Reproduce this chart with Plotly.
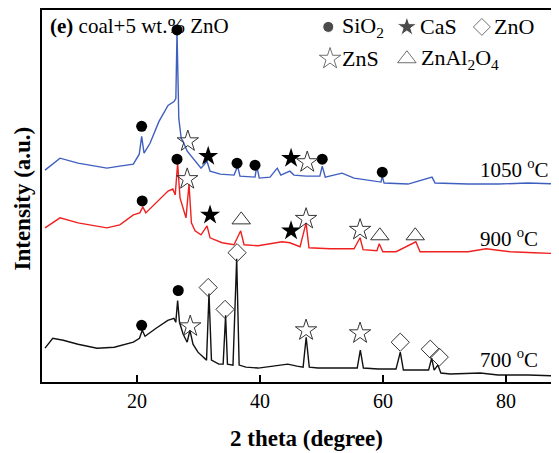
import plotly.graph_objects as go

# ---------------- data (2theta in degrees, intensity in a.u. incl. offsets) ----------------
tt_700 = [5.04, 6.3, 8.0, 10.4, 13.5, 16.3, 19.4, 20.4, 20.85, 21.3, 23.1, 25.0, 26.0, 26.3, 26.6,
          26.9, 27.5, 28.15, 28.6, 29.1, 29.9, 30.7, 31.3, 31.7, 32.1, 33.3, 34.0, 34.4, 34.7, 35.6,
          36.2, 36.6, 37.7, 39.7, 42.6, 44.5, 46.0, 47.0, 47.5, 48.0, 49.4, 52.4, 55.8, 56.3, 56.8,
          59.2, 62.1, 62.8, 63.3, 66.0, 67.4, 67.9, 68.3, 68.9, 69.4, 70.9, 75.8, 78.7, 83.6, 88.6]
int_700 = [34, 44, 42, 38, 34, 35, 40, 44, 52, 46, 54, 62, 64, 60, 82,
           60, 48, 40, 52, 38, 30, 25, 22, 89, 22, 18, 18, 67, 18, 17,
           124, 17, 15, 14, 16, 18, 16, 15, 45, 15, 14, 14, 14, 32, 14,
           13, 13, 30, 12, 12, 12, 24, 12, 17, 9, 8, 9, 7, 7, 6]

tt_900 = [5.04, 7.48, 10.4, 15.1, 17.2, 19.4, 20.45, 20.94, 21.43, 23.1, 25.04, 25.82, 26.21, 26.6,
          26.99, 27.48, 27.96, 28.45, 28.84, 29.43, 30.4, 31.38, 31.87, 33.82, 35.77, 36.85, 37.4,
          39.67, 41.62, 43.57, 44.84, 46.5, 47.48, 47.95, 51.38, 55.28, 56.26, 56.75, 59.0, 59.38,
          59.96, 62.11, 65.33, 66.01, 68.94, 73.82, 76.74, 80.65, 84.55, 88.6]
int_900 = [155, 165, 160, 155, 158, 168, 170, 176, 170, 180, 192, 194, 188, 220,
           185, 175, 165, 199, 160, 152, 148, 157, 145, 140, 138, 152, 138,
           137, 139, 141, 140, 136, 160, 135, 134, 134, 145, 133, 132, 139,
           131, 131, 141, 131, 131, 131, 134, 131, 130, 129]

tt_1050 = [5.04, 7.48, 10.4, 15.1, 17.2, 19.4, 20.36, 20.75, 21.14, 22.11, 23.57, 25.04, 26.01,
           26.31, 26.5, 26.79, 27.18, 27.48, 28.16, 29.43, 30.4, 31.38, 31.87, 33.53, 35.77, 36.35,
           36.74, 39.18, 39.48, 39.87, 41.62, 42.79, 43.38, 44.84, 45.52, 47.48, 49.72, 50.11, 50.6,
           53.33, 55.28, 59.67, 59.87, 60.16, 64.06, 67.96, 68.45, 73.82, 78.7, 83.57, 88.6]
int_1050 = [213, 225, 220, 215, 217, 219, 229, 247, 230, 240, 262, 278, 282,
            285, 352, 265, 245, 242, 232, 222, 215, 222, 212, 209, 208, 217,
            207, 206, 217, 205, 206, 215, 208, 212, 208, 207, 207, 217, 206,
            210, 205, 201, 207, 200, 199, 206, 200, 199, 199, 200, 199]

# phase identification markers
sio2_x = [20.75, 26.5, 36.26, 39.18, 50.11, 59.87, 20.84, 26.5, 20.75, 26.7]
sio2_y = [257, 354, 220, 218, 224, 211, 182, 224, 57, 92]
cas_x = [31.57, 45.04, 31.87, 45.04]
cas_y = [227, 225, 168, 152]
zns_x = [28.26, 47.67, 28.16, 47.48, 56.26, 28.65, 47.48, 56.26]
zns_y = [242, 221, 204, 164, 153, 56, 52, 49]
zno_x = [31.57, 34.31, 36.26, 62.79, 67.67, 69.13]
zno_y = [95, 73, 130, 40, 33, 25]
znal_x = [36.94, 59.47, 65.23]
znal_y = [163, 147, 147]

x_ticks = [20, 40, 60, 80]

FONT = "Liberation Serif, Times New Roman, serif"

fig = go.Figure()
fig.add_trace(go.Scatter(x=tt_700, y=int_700, mode="lines", line=dict(color="#111111", width=1.4)))
fig.add_trace(go.Scatter(x=tt_900, y=int_900, mode="lines", line=dict(color="#f02020", width=1.4)))
fig.add_trace(go.Scatter(x=tt_1050, y=int_1050, mode="lines", line=dict(color="#3f5fbf", width=1.4)))

fig.add_trace(go.Scatter(x=sio2_x, y=sio2_y, mode="markers",
                         marker=dict(symbol="circle", size=11, color="black")))
fig.add_trace(go.Scatter(x=cas_x, y=cas_y, mode="markers",
                         marker=dict(symbol="star", size=15, color="black")))
fig.add_trace(go.Scatter(x=zns_x, y=zns_y, mode="markers",
                         marker=dict(symbol="star-open", size=16, color="#333333", line=dict(width=1))))
fig.add_trace(go.Scatter(x=zno_x, y=zno_y, mode="markers",
                         marker=dict(symbol="diamond-open", size=14, color="#333333", line=dict(width=1))))
fig.add_trace(go.Scatter(x=znal_x, y=znal_y, mode="markers",
                         marker=dict(symbol="triangle-up-open", size=16, color="#333333", line=dict(width=1))))

# legend symbols
leg_sym_x = [51.09, 63.87, 76.06, 51.38, 63.87]
leg_sym_y = [357, 357, 357, 325, 325]
leg_symbols = ["circle", "star", "diamond-open", "star-open", "triangle-up-open"]
leg_sizes = [11, 15, 13, 16, 16]
leg_text_x = [52.94, 65.62, 77.75, 52.94, 65.82]
leg_labels = ["SiO<sub>2</sub>", "CaS", "ZnO", "ZnS", "ZnAl<sub>2</sub>O<sub>4</sub>"]
fig.add_trace(go.Scatter(x=leg_sym_x, y=leg_sym_y, mode="markers",
                         marker=dict(symbol=leg_symbols, size=leg_sizes,
                                     color=["black", "black", "#333333", "#333333", "#333333"],
                                     line=dict(width=1))))
for tx, ty, lab in zip(leg_text_x, leg_sym_y, leg_labels):
    fig.add_annotation(x=tx, y=ty, text=lab, showarrow=False, xanchor="left", yanchor="middle",
                       font=dict(family=FONT, size=22, color="black"))

# temperature labels
temp_labels = ["1050 <sup>o</sup>C", "900 <sup>o</sup>C", "700 <sup>o</sup>C"]
temp_y = [215, 145, 24]
for lab, ty in zip(temp_labels, temp_y):
    fig.add_annotation(x=75.48, y=ty, text=lab, showarrow=False, xanchor="left", yanchor="middle",
                       font=dict(family=FONT, size=21, color="black"))

# panel title
fig.add_annotation(x=0.012, y=0.995, xref="paper", yref="paper", text="<b>(e)</b> coal+5 wt.% ZnO",
                   showarrow=False, xanchor="left", yanchor="top",
                   font=dict(family=FONT, size=21, color="black"))

# axis titles
fig.add_annotation(x=-0.0377, y=0.492, xref="paper", yref="paper", text="<b>Intensity (a.u.)</b>",
                   showarrow=False, textangle=-90, xanchor="center", yanchor="middle",
                   font=dict(family=FONT, size=23, color="black"))
fig.add_annotation(x=0.511, y=-0.152, xref="paper", yref="paper", text="<b>2 theta (degree)</b>",
                   showarrow=False, xanchor="center", yanchor="middle",
                   font=dict(family=FONT, size=23, color="black"))

# page body has an 8 px margin, so the figure is sized and offset to compensate
fig.update_layout(
    width=551, height=445,
    margin=dict(l=34, r=0, t=0, b=71),
    paper_bgcolor="white", plot_bgcolor="white",
    showlegend=False,
    xaxis=dict(range=[4.55, 88.6], tickvals=x_ticks, ticks="inside", ticklen=7, tickwidth=1.5,
               tickcolor="black", showline=True, linecolor="black", linewidth=1.5, mirror=True,
               showgrid=False, zeroline=False,
               tickfont=dict(family=FONT, size=20, color="black")),
    yaxis=dict(range=[0, 374], showticklabels=False, ticks="", showline=True, linecolor="black",
               linewidth=1.5, showgrid=False, zeroline=False),
)

fig.write_html("out.html")
